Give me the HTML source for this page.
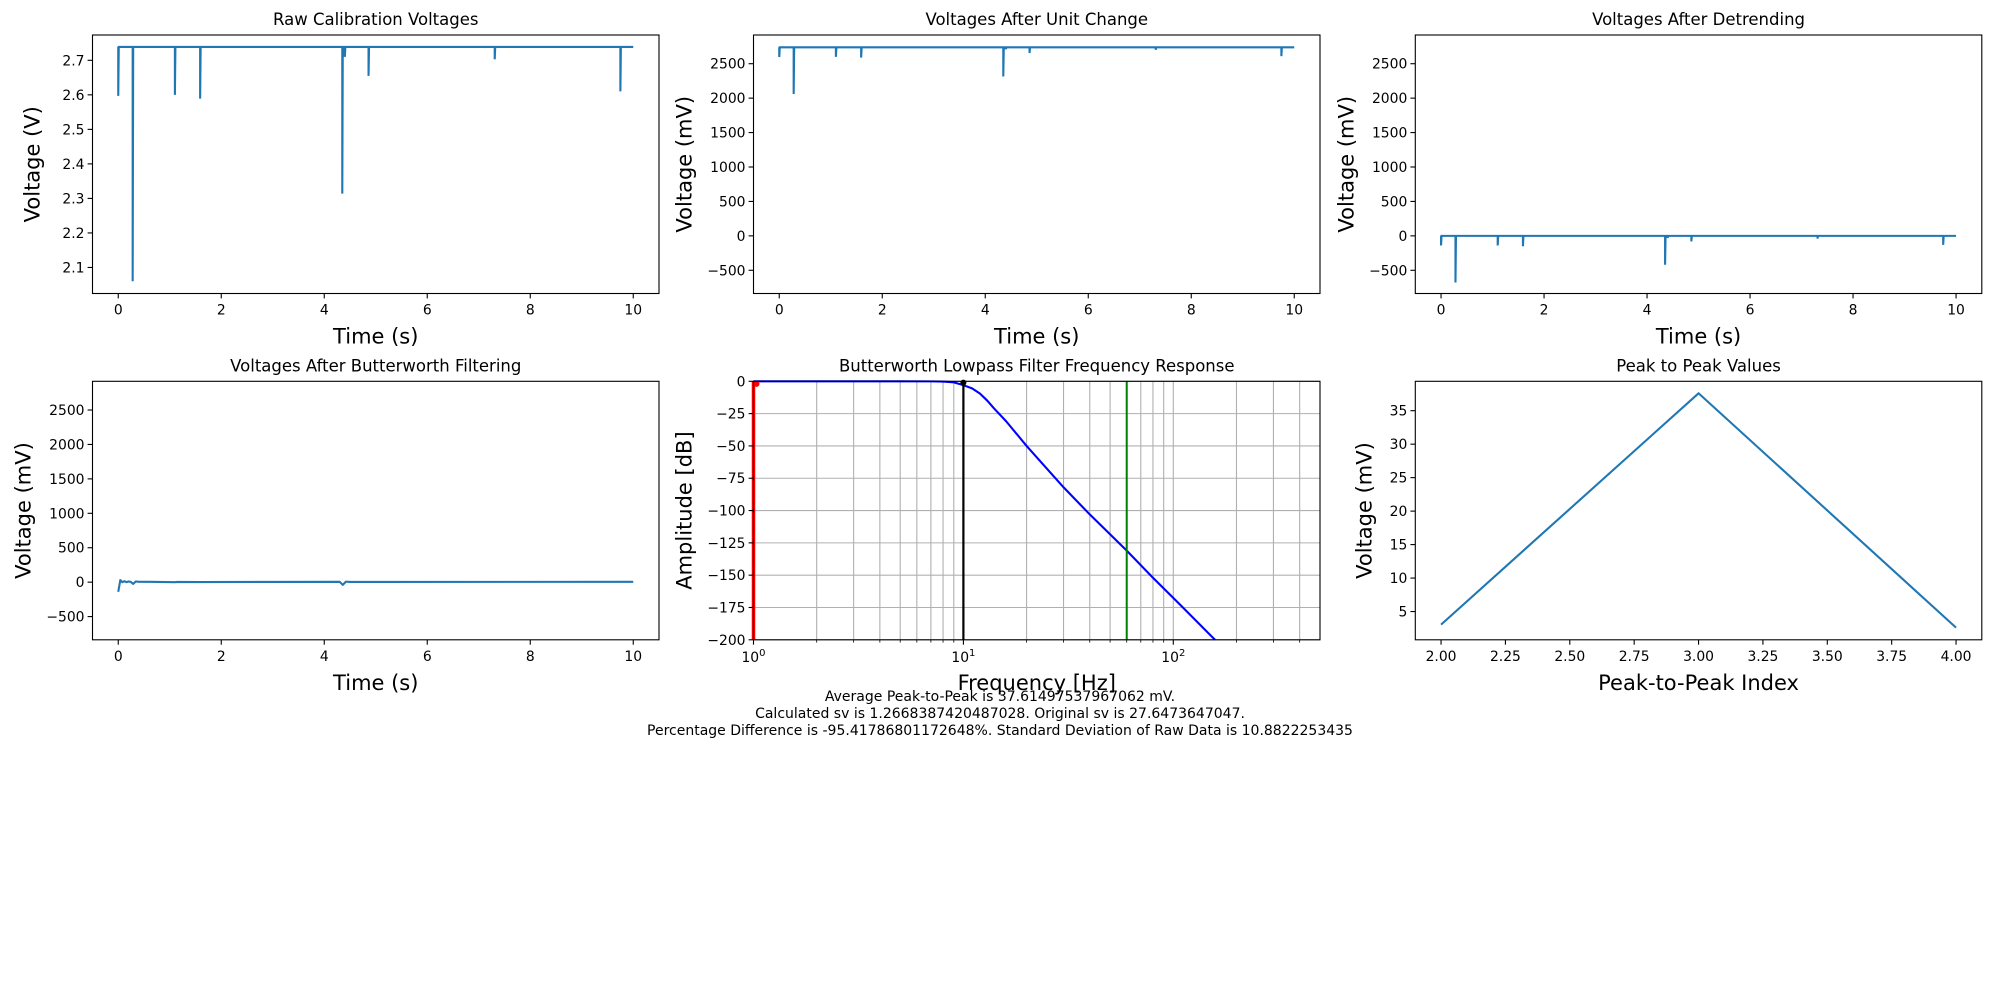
<!DOCTYPE html>
<html><head><meta charset="utf-8">
<style>
html,body{margin:0;padding:0;background:#fff;}
svg{display:block;font-family:"DejaVu Sans","Liberation Sans",sans-serif;}
</style></head>
<body>
<svg id="fig" width="2000" height="1000" viewBox="0 0 2000 1000" xmlns="http://www.w3.org/2000/svg">
<rect width="2000" height="1000" fill="#fff"/>
<g font-size="14" text-anchor="middle" fill="#000">
<text x="1000" y="701">Average Peak-to-Peak is 37.61497537967062 mV.</text>
<text x="1000" y="718">Calculated sv is 1.2668387420487028. Original sv is 27.6473647047.</text>
<text x="1000" y="735">Percentage Difference is -95.41786801172648%. Standard Deviation of Raw Data is 10.8822253435</text>
</g>
</svg>
<script>
// ---- data ----
const rawBase = 2.7386;
const rawSpikeTimes = [0.0, 0.28, 1.1, 1.59, 4.35, 4.4, 4.86, 7.31, 9.75];
const rawSpikeMins = [2.597, 2.06, 2.6, 2.589, 2.314, 2.71, 2.655, 2.703, 2.61];
const mvBase = 2738.6;
const mvSpikeTimes = [0.0, 0.28, 1.1, 1.59, 4.35, 4.4, 4.86, 7.31, 9.75];
const mvSpikeMins = [2597, 2060, 2600, 2589, 2314, 2710, 2655, 2703, 2610];
const detBase = 0;
const detSpikeTimes = [0.0, 0.28, 1.1, 1.59, 4.35, 4.4, 4.86, 7.31, 9.75];
const detSpikeMins = [-140, -677, -140, -150, -420, -30, -80, -40, -130];
const filtTimes = [0, 0.04, 0.08, 0.12, 0.16, 0.2, 0.24, 0.29, 0.34, 0.4, 0.6, 1.1, 1.15, 1.6, 4.3, 4.36, 4.42, 4.5, 10];
const filtValues = [-140, 30, 0, 15, 0, 10, 5, -25, 10, 5, 5, 0, 3, 2, 5, -40, 8, 3, 5];
const freqHz = [1, 3, 5, 7, 8, 9, 10, 11, 12, 13, 14, 16, 20, 30, 40, 60, 80, 108, 158];
const ampDb = [0, 0, 0, -0.05, -0.2, -0.8, -3, -5.5, -9.5, -15, -21, -31, -50, -82, -103, -131, -152, -173, -200];
const markerFreqs = [1, 10, 60];
const p2pIndex = [2, 3, 4];
const p2pValues = [3.05, 37.6, 2.6];

const NS = "http://www.w3.org/2000/svg";
const fig = document.getElementById('fig');
function el(tag, attrs, parent){
  const e = document.createElementNS(NS, tag);
  for (const k in attrs) e.setAttribute(k, attrs[k]);
  (parent || fig).appendChild(e);
  return e;
}
const COL = [92.5, 753.5, 1415.3];
const W = 566.5;
const ROW = [35, 381.3];
const H = 258.5;

function makeAxes(name, l, t, xlim, ylim, xlog){
  const g = el('g', {});
  
  
  const sx = xlog
    ? v => l + (Math.log10(v) - Math.log10(xlim[0])) / (Math.log10(xlim[1]) - Math.log10(xlim[0])) * W
    : v => l + (v - xlim[0]) / (xlim[1] - xlim[0]) * W;
  const sy = v => t + (ylim[1] - v) / (ylim[1] - ylim[0]) * H;
  return {g, sx, sy, l, t};
}
function frame(ax){
  const r = el('rect', {x: ax.l, y: ax.t, width: W, height: H, fill: 'none', stroke: '#000', 'stroke-width': 1.1}, ax.g);
  
  
}
function title(ax, txt){
  const e = el('text', {x: ax.l + W/2, y: ax.t - 10, 'font-size': 16.5, 'text-anchor': 'middle'}, ax.g);
  e.textContent = txt;
  
  
}
function xlabel(ax, txt){
  const e = el('text', {x: ax.l + W/2, y: ax.t + H + 50, 'font-size': 21, 'text-anchor': 'middle'}, ax.g);
  e.textContent = txt;
  
  
}
function ylabel(ax, txt, off){
  const x = ax.l - off, y = ax.t + H/2;
  const e = el('text', {x: x, y: y, 'font-size': 21, 'text-anchor': 'middle', transform: 'rotate(-90 ' + x + ' ' + y + ')'}, ax.g);
  e.textContent = txt;
  
  
}
function xticks(ax, vals, labels){
  vals.forEach((v, i) => {
    const x = ax.sx(v);
    el('line', {x1: x, x2: x, y1: ax.t + H, y2: ax.t + H + 4.9, stroke: '#000', 'stroke-width': 1.1}, ax.g);
    const e = el('text', {x: x, y: ax.t + H + 21, 'font-size': 13.9, 'text-anchor': 'middle'}, ax.g);
    e.textContent = labels[i];
    
    
  });
}
function yticks(ax, vals, labels){
  vals.forEach((v, i) => {
    const y = ax.sy(v);
    el('line', {x1: ax.l - 4.9, x2: ax.l, y1: y, y2: y, stroke: '#000', 'stroke-width': 1.1}, ax.g);
    const e = el('text', {x: ax.l - 8, y: y + 5, 'font-size': 13.9, 'text-anchor': 'end'}, ax.g);
    e.textContent = labels[i];
    
    
  });
}
function spikePath(ax, base, times, mins){
  let d = 'M' + ax.sx(0) + ' ' + ax.sy(base);
  times.forEach((tm, i) => {
    const x = ax.sx(tm);
    d += ' L' + x + ' ' + ax.sy(base) + ' L' + x + ' ' + ax.sy(mins[i]) + ' L' + (x + 0.5) + ' ' + ax.sy(base);
  });
  d += ' L' + ax.sx(10) + ' ' + ax.sy(base);
  const p = el('path', {d: d, fill: 'none', stroke: '#1f77b4', 'stroke-width': 2.1, 'stroke-linejoin': 'miter'}, ax.g);
  
  
}
function linePath(ax, xs, ys, color, name){
  const d = xs.map((x, i) => (i ? 'L' : 'M') + ax.sx(x) + ' ' + ax.sy(ys[i])).join(' ');
  const p = el('path', {d: d, fill: 'none', stroke: color, 'stroke-width': 2.1, 'stroke-linejoin': 'round'}, ax.g);
  
  
}
const tTicks = [0, 2, 4, 6, 8, 10];
const tLabels = ['0', '2', '4', '6', '8', '10'];
const mvTicks = [-500, 0, 500, 1000, 1500, 2000, 2500];
const mvLabels = ['\u2212500', '0', '500', '1000', '1500', '2000', '2500'];
const MVLIM = [-837, 2917];

// Plot 1
let a = makeAxes('raw-voltage-plot', COL[0], ROW[0], [-0.5, 10.5], [2.0246, 2.7733]);
spikePath(a, rawBase, rawSpikeTimes, rawSpikeMins);
frame(a); title(a, 'Raw Calibration Voltages');
xticks(a, tTicks, tLabels);
yticks(a, [2.1, 2.2, 2.3, 2.4, 2.5, 2.6, 2.7], ['2.1', '2.2', '2.3', '2.4', '2.5', '2.6', '2.7']);
xlabel(a, 'Time (s)'); ylabel(a, 'Voltage (V)', 53);

// Plot 2
a = makeAxes('unit-change-plot', COL[1], ROW[0], [-0.5, 10.5], MVLIM);
spikePath(a, mvBase, mvSpikeTimes, mvSpikeMins);
frame(a); title(a, 'Voltages After Unit Change');
xticks(a, tTicks, tLabels); yticks(a, mvTicks, mvLabels);
xlabel(a, 'Time (s)'); ylabel(a, 'Voltage (mV)', 62);

// Plot 3
a = makeAxes('detrended-plot', COL[2], ROW[0], [-0.5, 10.5], MVLIM);
spikePath(a, detBase, detSpikeTimes, detSpikeMins);
frame(a); title(a, 'Voltages After Detrending');
xticks(a, tTicks, tLabels); yticks(a, mvTicks, mvLabels);
xlabel(a, 'Time (s)'); ylabel(a, 'Voltage (mV)', 62);

// Plot 4
a = makeAxes('filtered-plot', COL[0], ROW[1], [-0.5, 10.5], MVLIM);
linePath(a, filtTimes, filtValues, '#1f77b4', 'filtered-trace');
frame(a); title(a, 'Voltages After Butterworth Filtering');
xticks(a, tTicks, tLabels); yticks(a, mvTicks, mvLabels);
xlabel(a, 'Time (s)'); ylabel(a, 'Voltage (mV)', 62);

// Plot 5
a = makeAxes('frequency-response-plot', COL[1], ROW[1], [1, 500], [-200, 0], true);
const minorF = [2,3,4,5,6,7,8,9,20,30,40,50,60,70,80,90,200,300,400];
const majorF = [1, 10, 100];
majorF.concat(minorF).forEach(f => {
  const x = a.sx(f);
  el('line', {x1: x, x2: x, y1: a.t, y2: a.t + H, stroke: '#b0b0b0', 'stroke-width': 1.1}, a.g);
});
const dbTicks = [0, -25, -50, -75, -100, -125, -150, -175, -200];
dbTicks.forEach(v => {
  const y = a.sy(v);
  el('line', {x1: a.l, x2: a.l + W, y1: y, y2: y, stroke: '#b0b0b0', 'stroke-width': 1.1}, a.g);
});
linePath(a, freqHz, ampDb, '#0000ff', 'response-curve');
const mColors = ['#ff0000', '#000000', '#008000'];
const mWidths = [3.5, 2.2, 2.0];
markerFreqs.forEach((f, i) => {
  const x = a.sx(f);
  const ln = el('line', {x1: x, x2: x, y1: a.t, y2: a.t + H, stroke: mColors[i], 'stroke-width': mWidths[i]}, a.g);
  
  
});
el('circle', {cx: a.sx(markerFreqs[0]) + 3, cy: a.sy(-2), r: 3, fill: '#ff0000'}, a.g);
el('circle', {cx: a.sx(markerFreqs[1]), cy: a.sy(-1), r: 3, fill: '#000'}, a.g);
frame(a); title(a, 'Butterworth Lowpass Filter Frequency Response');
minorF.forEach(f => {
  const x = a.sx(f);
  el('line', {x1: x, x2: x, y1: a.t + H, y2: a.t + H + 2.8, stroke: '#000', 'stroke-width': 0.8}, a.g);
});
majorF.forEach((f, i) => {
  const x = a.sx(f);
  el('line', {x1: x, x2: x, y1: a.t + H, y2: a.t + H + 4.9, stroke: '#000', 'stroke-width': 1.1}, a.g);
  const e = el('text', {x: x, y: a.t + H + 22, 'font-size': 13.9, 'text-anchor': 'middle'}, a.g);
  e.innerHTML = '10<tspan dy="-6" font-size="10">' + i + '</tspan>';
  
  
});
yticks(a, dbTicks, ['0', '\u221225', '\u221250', '\u221275', '\u2212100', '\u2212125', '\u2212150', '\u2212175', '\u2212200']);
xlabel(a, 'Frequency [Hz]'); ylabel(a, 'Amplitude [dB]', 62);

// Plot 6
a = makeAxes('peak-to-peak-plot', COL[2], ROW[1], [1.9, 4.1], [0.78, 39.39]);
linePath(a, p2pIndex, p2pValues, '#1f77b4', 'peak-to-peak-line');
frame(a); title(a, 'Peak to Peak Values');
const pxT = [2, 2.25, 2.5, 2.75, 3, 3.25, 3.5, 3.75, 4];
xticks(a, pxT, pxT.map(v => v.toFixed(2)));
yticks(a, [5, 10, 15, 20, 25, 30, 35], ['5', '10', '15', '20', '25', '30', '35']);
xlabel(a, 'Peak-to-Peak Index'); ylabel(a, 'Voltage (mV)', 44);
</script>
</body></html>
